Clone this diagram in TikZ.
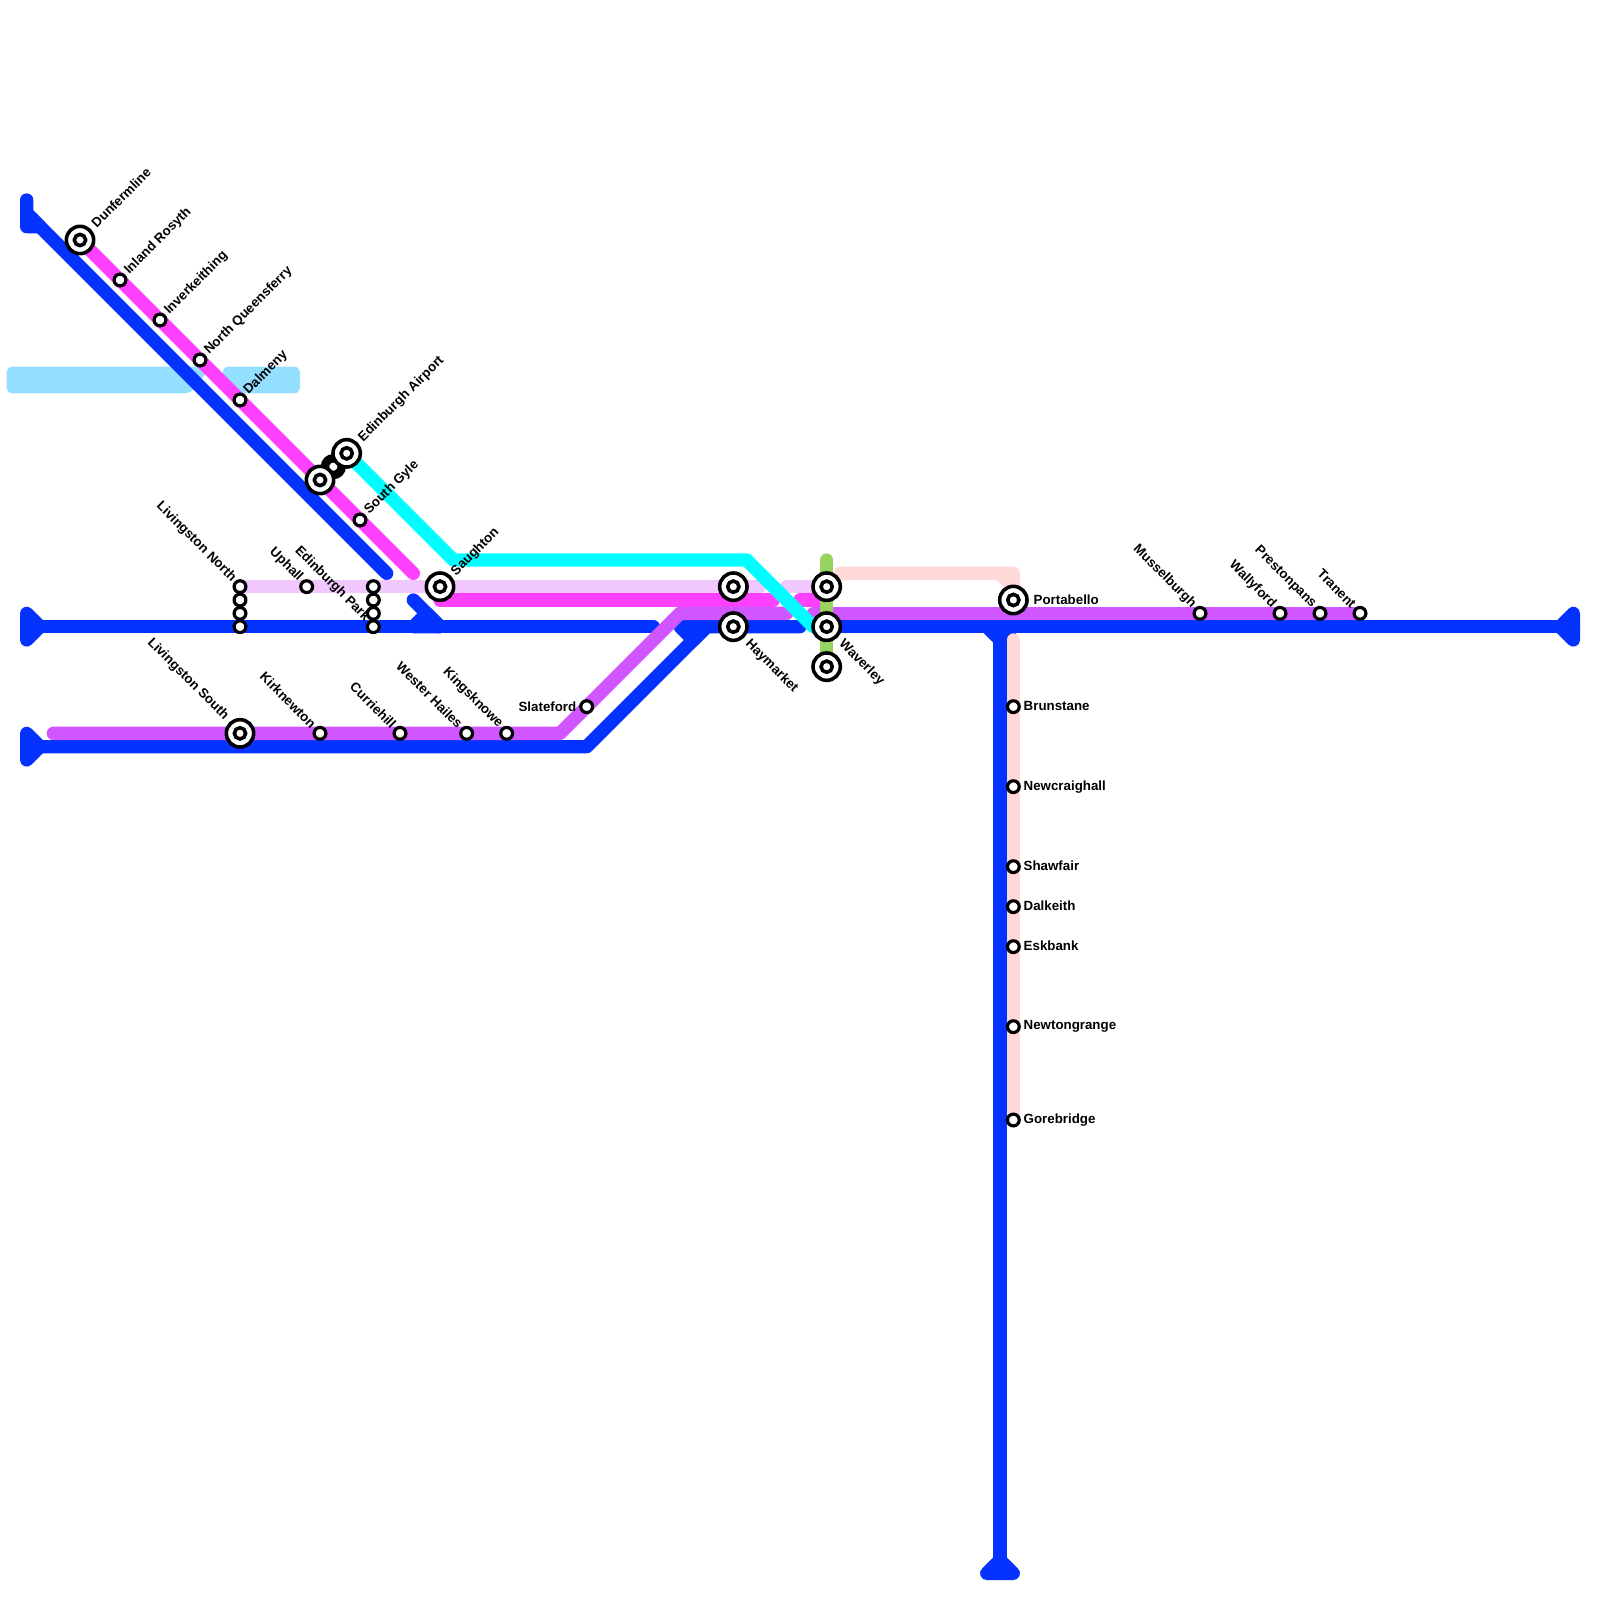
\documentclass[tikz,border=0pt]{standalone}
\usepackage{fontspec}
\setmainfont{Liberation Sans}
\usepackage{xcolor}
\usepackage{tikz}
\usetikzlibrary{backgrounds}
\definecolor{mgblue}{RGB}{4,51,255}
\definecolor{mgmagenta}{RGB}{255,64,255}
\definecolor{mgcyan}{RGB}{0,253,255}
\definecolor{mgpurple}{RGB}{208,86,255}
\definecolor{mgviolet}{RGB}{240,200,255}
\definecolor{mgpink}{RGB}{255,216,216}
\definecolor{mggreen}{RGB}{150,211,95}
\definecolor{mgwater}{RGB}{148,223,255}
\tikzset{
  railline/.style={line width=0.25cm, line cap=round, line join=round},
  blueline/.style={railline, draw=mgblue},
  blueend/.style={railline, draw=mgblue, fill=mgblue},
  magline/.style={railline, draw=mgmagenta},
  cyanline/.style={railline, draw=mgcyan},
  purpline/.style={railline, draw=mgpurple},
  violine/.style={railline, draw=mgviolet},
  pinkline/.style={railline, draw=mgpink},
  pinkend/.style={railline, draw=mgpink, fill=mgpink},
  greenline/.style={railline, draw=mggreen},
  water/.style={fill=mgwater, rounded corners=3.2pt},
  stn/.style={circle, draw=black, fill=white, minimum size=6.3pt,
    inner sep=0pt, line width=1.7pt},
  linkstn/.style={circle, draw=black, fill=white, minimum size=8.9pt,
    inner sep=0pt, line width=4.5pt},
  bigstn/.style={circle, draw=black, fill=white, minimum size=14.6pt,
    inner sep=0pt, line width=1.9pt,
    path picture={\draw[black, line width=1.9pt] (path picture bounding box.center) circle (3pt);}},
  stnname/.style={font=\fontsize{7.1}{8}\selectfont\bfseries, inner sep=0pt, text=black},
  nameup/.style={stnname, rotate=45, anchor=west},
  namedown/.style={stnname, rotate=-45, anchor=east},
  nameout/.style={stnname, rotate=-45, anchor=west},
  nameright/.style={stnname, anchor=west},
  nameleft/.style={stnname, anchor=east}
}
\begin{document}
\begin{tikzpicture}[x=0.25cm, y=-0.25cm]
  \useasboundingbox (0,0) rectangle (120,120);

  % ── North line stations ─────────────────────────────────────────────────
  \node[bigstn] (dunfermline) at (6,18) {};
  \node[stn] (inland) at (9,21) {};
  \node[stn] (inverkeithing) at (12,24) {};
  \node[stn] (queensferry) at (15,27) {};
  \node[stn] (dalmeny) at (18,30) {};
  \node[linkstn] (airlink) at (25,35) {};
  \node[bigstn] (gateway) at (24,36) {};
  \node[bigstn] (airport) at (26,34) {};
  \node[stn] (gyle) at (27,39) {};
  \node[bigstn] (saughton) at (33,44) {};

  % ── West line stations ──────────────────────────────────────────────────
  \node[stn] (livnorth) at (18,44) {};
  \node[stn] (livnortha) at (18,45) {};
  \node[stn] (livnorthb) at (18,46) {};
  \node[stn] (livnorthc) at (18,47) {};
  \node[stn] (uphall) at (23,44) {};
  \node[stn] (parka) at (28,44) {};
  \node[stn] (parkb) at (28,45) {};
  \node[stn] (parkc) at (28,46) {};
  \node[stn] (park) at (28,47) {};

  % ── South-west line stations ────────────────────────────────────────────
  \node[bigstn] (livsouth) at (18,55) {};
  \node[stn] (kirknewton) at (24,55) {};
  \node[stn] (curriehill) at (30,55) {};
  \node[stn] (wester) at (35,55) {};
  \node[stn] (kingsknowe) at (38,55) {};
  \node[stn] (slateford) at (44,53) {};

  % ── City stations ───────────────────────────────────────────────────────
  \node[bigstn] (haynorth) at (55,44) {};
  \node[bigstn] (haymarket) at (55,47) {};
  \node[bigstn] (wavnorth) at (62,44) {};
  \node[bigstn] (waverley) at (62,47) {};
  \node[bigstn] (wavsouth) at (62,50) {};
  \node[bigstn] (portabello) at (76,45) {};

  % ── East line stations ──────────────────────────────────────────────────
  \node[stn] (musselburgh) at (90,46) {};
  \node[stn] (wallyford) at (96,46) {};
  \node[stn] (prestonpans) at (99,46) {};
  \node[stn] (tranent) at (102,46) {};

  % ── Borders line stations ───────────────────────────────────────────────
  \node[stn] (brunstane) at (76,53) {};
  \node[stn] (newcraighall) at (76,59) {};
  \node[stn] (shawfair) at (76,65) {};
  \node[stn] (dalkeith) at (76,68) {};
  \node[stn] (eskbank) at (76,71) {};
  \node[stn] (newtongrange) at (76,77) {};
  \node[stn] (gorebridge) at (76,84) {};

  % ── Station names ───────────────────────────────────────────────────────
  \node[nameup] (ldunfermline) at ([shift={(1.0,-1.1)}]dunfermline.center) {Dunfermline};
  \node[nameup] (linland) at ([shift={(0.5,-0.55)}]inland.center) {Inland Rosyth};
  \node[nameup] (linverkeithing) at ([shift={(0.5,-0.55)}]inverkeithing.center) {Inverkeithing};
  \node[nameup] (lqueensferry) at ([shift={(0.5,-0.55)}]queensferry.center) {North Queensferry};
  \node[nameup] (ldalmeny) at ([shift={(0.45,-0.55)}]dalmeny.center) {Dalmeny};
  \node[nameup] (lairport) at ([shift={(1.05,-1.0)}]airport.center) {Edinburgh Airport};
  \node[nameup] (lgyle) at ([shift={(0.5,-0.55)}]gyle.center) {South Gyle};
  \node[nameup] (lsaughton) at ([shift={(1.0,-0.95)}]saughton.center) {Saughton};
  \node[namedown] (llivnorth) at ([shift={(-0.45,-0.5)}]livnorth.center) {Livingston North};
  \node[namedown] (luphall) at ([shift={(-0.45,-0.55)}]uphall.center) {Uphall};
  \node[namedown] (lpark) at ([shift={(-0.45,-0.55)}]park.center) {Edinburgh Park};
  \node[namedown] (llivsouth) at ([shift={(-1.0,-1.15)}]livsouth.center) {Livingston South};
  \node[namedown] (lkirknewton) at ([shift={(-0.45,-0.55)}]kirknewton.center) {Kirknewton};
  \node[namedown] (lcurriehill) at ([shift={(-0.45,-0.55)}]curriehill.center) {Curriehill};
  \node[namedown] (lwester) at ([shift={(-0.45,-0.55)}]wester.center) {Wester Hailes};
  \node[namedown] (lkingsknowe) at ([shift={(-0.45,-0.55)}]kingsknowe.center) {Kingsknowe};
  \node[nameleft] (lslateford) at ([shift={(-0.75,0)}]slateford.center) {Slateford};
  \node[nameout] (lhaymarket) at ([shift={(1.05,1.15)}]haymarket.center) {Haymarket};
  \node[nameout] (lwaverley) at ([shift={(1.05,1.15)}]waverley.center) {Waverley};
  \node[nameright] (lportabello) at ([shift={(1.5,0)}]portabello.center) {Portabello};
  \node[namedown] (lmusselburgh) at ([shift={(-0.45,-0.55)}]musselburgh.center) {Musselburgh};
  \node[namedown] (lwallyford) at ([shift={(-0.45,-0.55)}]wallyford.center) {Wallyford};
  \node[namedown] (lprestonpans) at ([shift={(-0.45,-0.55)}]prestonpans.center) {Prestonpans};
  \node[namedown] (ltranent) at ([shift={(-0.45,-0.55)}]tranent.center) {Tranent};
  \node[nameright] (lbrunstane) at ([shift={(0.75,-0.05)}]brunstane.center) {Brunstane};
  \node[nameright] (lnewcraighall) at ([shift={(0.75,0)}]newcraighall.center) {Newcraighall};
  \node[nameright] (lshawfair) at ([shift={(0.75,-0.05)}]shawfair.center) {Shawfair};
  \node[nameright] (ldalkeith) at ([shift={(0.75,-0.05)}]dalkeith.center) {Dalkeith};
  \node[nameright] (leskbank) at ([shift={(0.75,-0.05)}]eskbank.center) {Eskbank};
  \node[nameright] (lnewtongrange) at ([shift={(0.75,0)}]newtongrange.center) {Newtongrange};
  \node[nameright] (lgorebridge) at ([shift={(0.75,0)}]gorebridge.center) {Gorebridge};

  % ── Line ends and bends ─────────────────────────────────────────────────
  \coordinate (firthend) at (2,16);
  \coordinate (firthstop) at (29,43);
  \coordinate (magstop) at (31,43);
  \coordinate (mainwest) at (2,47);
  \coordinate (maingap) at (49,47);
  \coordinate (maineast) at (118,47);
  \coordinate (stubtop) at (31,45);
  \coordinate (stubfoot) at (33,47);
  \coordinate (lowwest) at (2,56);
  \coordinate (lowbend) at (44,56);
  \coordinate (lowtop) at (53,47);
  \coordinate (lowtip) at (51,47);
  \coordinate (citystop) at (60,47);
  \coordinate (borderstop) at (75,47);
  \coordinate (bordersouth) at (75,118);
  \coordinate (cyanbendw) at (34,42);
  \coordinate (cyanbende) at (56,42);
  \coordinate (cyanstop) at (61,47);
  \coordinate (purpwest) at (4,55);
  \coordinate (purpbend) at (42,55);
  \coordinate (purptop) at (51,46);
  \coordinate (purpstop) at (59,46);
  \coordinate (purpbit) at (61,46);
  \coordinate (purpeast) at (63,46);
  \coordinate (magwest) at (33,45);
  \coordinate (magstopb) at (58,45);
  \coordinate (magbit) at (60,45);
  \coordinate (magbite) at (62,45);
  \coordinate (viostop) at (57,44);
  \coordinate (viobit) at (59,44);
  \coordinate (pinkwest) at (63,43);
  \coordinate (pinkbend) at (75,43);
  \coordinate (pinkdown) at (76,44);
  \coordinate (pinkback) at (76,48);
  \coordinate (greentop) at (62,42);

  \begin{scope}[on background layer]
    % ── Firth of Forth ──────────────────────────────────────────────────
    \fill[water] (0.5,27.5) -- (15.8,27.5) -- (14.3,29.5) -- (0.5,29.5) -- cycle;
    \fill[water] (16.7,27.5) rectangle (22.5,29.5);

    % ── Blue lines ──────────────────────────────────────────────────────
    \draw[blueend] (2,15) -- (2,17) -- (3,17) -- (firthend) -- cycle;
    \draw[blueline] (firthend) -- (firthstop);
    \draw[blueend] (2,46) -- (3,47) -- (2,48) -- cycle;
    \draw[blueline] (mainwest) -- (maingap);
    \draw[blueline] (stubtop) -- (stubfoot);
    \draw[blueend] (31,47) -- (32,46) -- (stubfoot) -- cycle;
    \draw[blueend] (2,55) -- (3,56) -- (2,57) -- cycle;
    \draw[blueline] (lowwest) -- (lowbend) -- (lowtop) -- (citystop);
    \draw[blueend] (lowtip) -- (lowtop) -- (52,48) -- cycle;
    \draw[blueline] (waverley.center) -- (maineast);
    \draw[blueend] (118,46) -- (117,47) -- (118,48) -- cycle;
    \draw[blueend] (74,47) -- (76,47) -- (75,48) -- cycle;
    \draw[blueline] (borderstop) -- (bordersouth);
    \draw[blueend] (74,118) -- (75,117) -- (76,118) -- cycle;

    % ── Borders line ────────────────────────────────────────────────────
    \draw[pinkline] (pinkwest) -- (pinkbend) -- (pinkdown) -- (portabello.center);
    \draw[pinkend] (pinkbend) -- (76,43) -- (pinkdown) -- cycle;
    \draw[pinkline] (pinkback) -- (gorebridge.center);

    % ── West line ───────────────────────────────────────────────────────
    \draw[violine] (livnorth.center) -- (viostop);
    \draw[violine] (viobit) -- (wavnorth.center);

    % ── Fife line ───────────────────────────────────────────────────────
    \draw[magline] (dunfermline.center) -- (magstop);
    \draw[magline] (magwest) -- (magstopb);
    \draw[magline] (magbit) -- (magbite);

    % ── Lothian line ────────────────────────────────────────────────────
    \draw[purpline] (purpwest) -- (purpbend) -- (purptop) -- (purpstop);
    \draw[purpline] (purpbit) -- (purpeast);
    \draw[purpline] (purpeast) -- (tranent.center);

    % ── Crossing lines ──────────────────────────────────────────────────
    \draw[greenline] (greentop) -- (wavsouth.center);
    \draw[cyanline] (airport.center) -- (cyanbendw) -- (cyanbende) -- (cyanstop);
  \end{scope}
\end{tikzpicture}
\end{document}
